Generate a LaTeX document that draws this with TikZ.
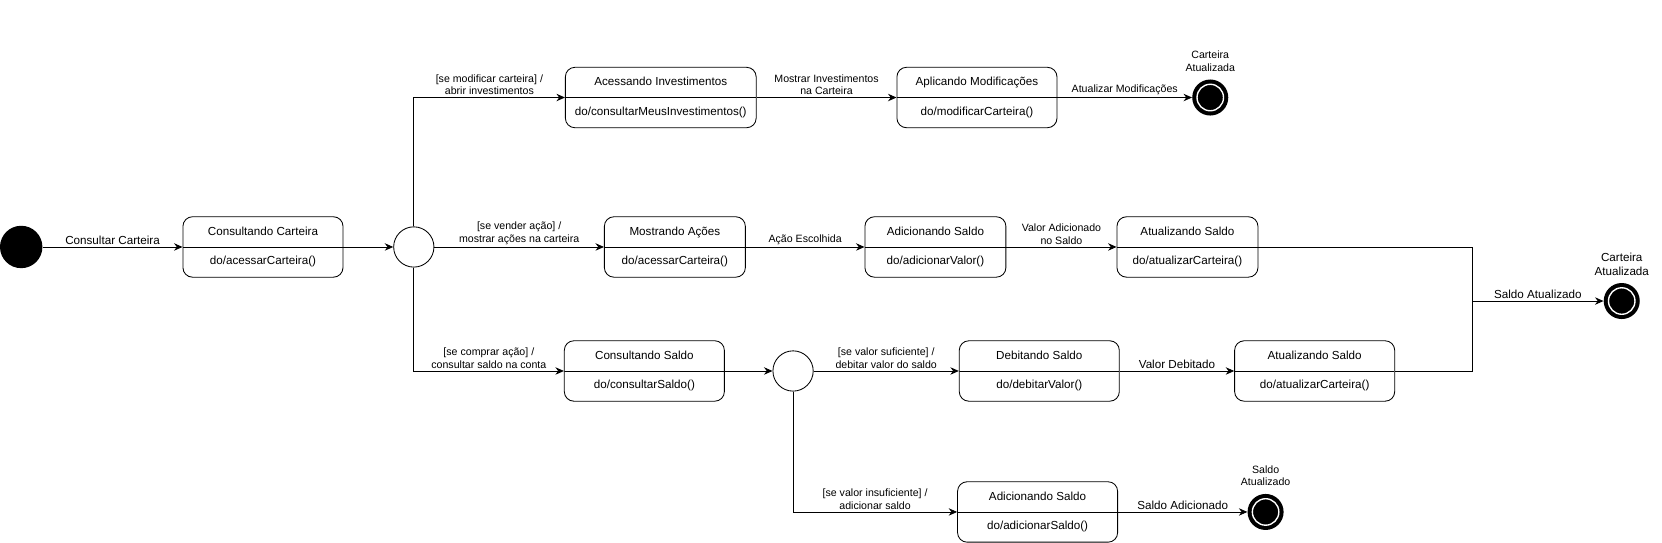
\documentclass[tikz,border=0pt]{standalone}
\usepackage{fontspec}
\setmainfont{Liberation Sans}
\usetikzlibrary{arrows.meta, positioning}

\begin{document}
\begin{tikzpicture}[
  x=1pt, y=1pt,
  statebox/.style = {draw, rounded corners=9pt, line width=0.8pt, minimum height=57pt, minimum width=151pt,
    inner sep=0pt, align=center, font=\fontsize{11}{13}\selectfont,
    path picture={\draw[line width=0.8pt] (path picture bounding box.west) -- (path picture bounding box.east);}},
  arrow/.style = {line width=0.8pt, -{Stealth[length=8pt, width=7pt]}},
  line/.style = {line width=0.8pt},
  lbl/.style = {font=\fontsize{10}{12}\selectfont, align=center, inner sep=2pt},
  lblone/.style = {font=\fontsize{11}{13}\selectfont, align=center, inner sep=2pt},
  initst/.style = {circle, fill=black, minimum size=40pt, inner sep=0pt},
  choice/.style = {circle, draw, line width=0.8pt, fill=white, minimum size=38pt, inner sep=0pt},
  finalst/.style = {circle, fill=black, minimum size=34pt, inner sep=0pt,
    path picture={\draw[white, line width=1.3pt] (path picture bounding box.center) circle (12.5pt);}}
]
  \useasboundingbox (0,0) rectangle (1568,-511.35);

  % Inicio
  \node[initst] (init) at (20,-233) {};
  \node[statebox, right=132pt of init] (consCart) {Consultando Carteira\\[15pt]do/acessarCarteira()};
  \node[choice, right=47pt of consCart] (ch1) {};

  % Ramo superior: modificar carteira
  \node[statebox, minimum width=180pt, anchor=west] (acessInv) at (533,-92) {Acessando Investimentos\\[15pt]do/consultarMeusInvestimentos()};
  \node[statebox, right=132pt of acessInv] (aplicMod) {Aplicando Modificações\\[15pt]do/modificarCarteira()};
  \node[finalst, right=127pt of aplicMod] (fimTopo) {};
  \node[lbl, above=5pt of fimTopo] (lblTopo) {Carteira\\Atualizada};

  % Ramo do meio: vender acao
  \node[statebox, minimum width=133pt, right=160pt of ch1] (mostAcoes) {Mostrando Ações\\[15pt]do/acessarCarteira()};
  \node[statebox, minimum width=133pt, right=112pt of mostAcoes] (adicSaldo) {Adicionando Saldo\\[15pt]do/adicionarValor()};
  \node[statebox, minimum width=133pt, right=104pt of adicSaldo] (atualSaldoA) {Atualizando Saldo\\[15pt]do/atualizarCarteira()};

  % Ramo inferior: comprar acao
  \node[statebox, anchor=west] (consSaldo) at (532,-350) {Consultando Saldo\\[15pt]do/consultarSaldo()};
  \node[choice, right=45pt of consSaldo] (ch2) {};
  \node[statebox, right=137pt of ch2] (debSaldo) {Debitando Saldo\\[15pt]do/debitarValor()};
  \node[statebox, right=108pt of debSaldo] (atualSaldoB) {Atualizando Saldo\\[15pt]do/atualizarCarteira()};
  \node[statebox, anchor=west] (adicSaldoB) at (903,-483) {Adicionando Saldo\\[15pt]do/adicionarSaldo()};
  \node[finalst, right=122pt of adicSaldoB] (fimBaixo) {};
  \node[lbl, above=5pt of fimBaixo] (lblBaixo) {Saldo\\Atualizado};

  % Final da direita
  \coordinate (junta) at (1389,-284);
  \node[finalst] (fimDir) at (1530,-284) {};
  \node[lblone, above=5pt of fimDir] (lblDir) {Carteira\\Atualizada};

  % Transicoes
  \draw[arrow] (init) -- node[lblone, above] (tConsCart) {Consultar Carteira} (consCart);
  \draw[arrow] (consCart) -- (ch1);
  \draw[arrow] (ch1) |- node[lbl, pos=0.75, above] (tModif) {[se modificar carteira] /\\abrir investimentos} (acessInv);
  \draw[arrow] (acessInv) -- node[lbl, above] (tMostrInv) {Mostrar Investimentos\\na Carteira} (aplicMod);
  \draw[arrow] (aplicMod) -- node[lbl, above] (tAtualMod) {Atualizar Modificações} (fimTopo);
  \draw[arrow] (ch1) -- node[lbl, above] (tVender) {[se vender ação] /\\mostrar ações na carteira} (mostAcoes);
  \draw[arrow] (mostAcoes) -- node[lbl, above] (tEscolha) {Ação Escolhida} (adicSaldo);
  \draw[arrow] (adicSaldo) -- node[lbl, above] (tValAdic) {Valor Adicionado\\no Saldo} (atualSaldoA);
  \draw[line] (atualSaldoA) -| (junta);
  \draw[line] (atualSaldoB) -| (junta);
  \draw[arrow] (junta) -- node[lblone, above] (tSaldoAtual) {Saldo Atualizado} (fimDir);
  \draw[arrow] (ch1) |- node[lbl, pos=0.75, above] (tComprar) {[se comprar ação] /\\consultar saldo na conta} (consSaldo);
  \draw[arrow] (consSaldo) -- (ch2);
  \draw[arrow] (ch2) -- node[lbl, above] (tSuf) {[se valor suficiente] /\\debitar valor do saldo} (debSaldo);
  \draw[arrow] (debSaldo) -- node[lblone, above] (tDebit) {Valor Debitado} (atualSaldoB);
  \draw[arrow] (ch2) |- node[lbl, pos=0.75, above] (tInsuf) {[se valor insuficiente] /\\adicionar saldo} (adicSaldoB);
  \draw[arrow] (adicSaldoB) -- node[lblone, above] (tSaldoAdic) {Saldo Adicionado} (fimBaixo);

\end{tikzpicture}
\end{document}
